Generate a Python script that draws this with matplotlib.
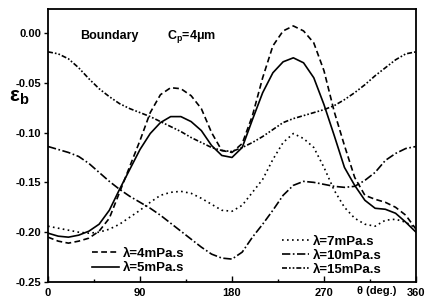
import matplotlib
matplotlib.use("Agg")
import matplotlib.pyplot as plt

plt.rcParams['font.family'] = ['Liberation Sans', 'DejaVu Sans']
plt.rcParams['font.weight'] = 'bold'
plt.rcParams['mathtext.fontset'] = 'custom'
plt.rcParams['mathtext.rm'] = 'Liberation Sans:bold'
plt.rcParams['mathtext.bf'] = 'Liberation Sans:bold'
plt.rcParams['mathtext.it'] = 'Liberation Sans:bold'

theta = list(range(0, 361, 10))

eps_4 = [-0.205, -0.209, -0.211, -0.209, -0.206, -0.199, -0.186, -0.160, -0.134, -0.108,
         -0.080, -0.062, -0.055, -0.056, -0.063, -0.076, -0.100, -0.118, -0.120, -0.111,
         -0.083, -0.045, -0.013, 0.002, 0.007, 0.002, -0.010, -0.038, -0.079, -0.113,
         -0.145, -0.163, -0.167, -0.170, -0.175, -0.183, -0.197]
eps_5 = [-0.201, -0.204, -0.205, -0.203, -0.199, -0.192, -0.178, -0.157, -0.137, -0.117,
         -0.101, -0.090, -0.084, -0.084, -0.089, -0.098, -0.113, -0.123, -0.125, -0.115,
         -0.087, -0.060, -0.040, -0.029, -0.025, -0.030, -0.045, -0.072, -0.103, -0.135,
         -0.153, -0.168, -0.176, -0.177, -0.181, -0.190, -0.200]
eps_7 = [-0.194, -0.196, -0.198, -0.200, -0.201, -0.200, -0.197, -0.192, -0.185, -0.178,
         -0.170, -0.163, -0.160, -0.159, -0.161, -0.166, -0.172, -0.178, -0.179, -0.173,
         -0.160, -0.147, -0.127, -0.110, -0.101, -0.106, -0.115, -0.135, -0.158, -0.175,
         -0.186, -0.192, -0.194, -0.188, -0.187, -0.190, -0.196]
eps_10 = [-0.114, -0.117, -0.120, -0.124, -0.131, -0.140, -0.149, -0.157, -0.164, -0.170,
          -0.176, -0.183, -0.191, -0.199, -0.207, -0.215, -0.222, -0.226, -0.227, -0.220,
          -0.205, -0.192, -0.178, -0.163, -0.153, -0.149, -0.150, -0.152, -0.154, -0.155,
          -0.154, -0.148, -0.140, -0.128, -0.121, -0.116, -0.114]
eps_15 = [-0.019, -0.021, -0.026, -0.035, -0.046, -0.056, -0.064, -0.071, -0.076, -0.080,
          -0.084, -0.089, -0.094, -0.099, -0.105, -0.110, -0.115, -0.118, -0.119, -0.115,
          -0.110, -0.104, -0.097, -0.090, -0.086, -0.083, -0.080, -0.077, -0.073, -0.067,
          -0.060, -0.052, -0.043, -0.035, -0.027, -0.021, -0.019]

labels = ['λ=4mPa.s', 'λ=5mPa.s', 'λ=7mPa.s', 'λ=10mPa.s', 'λ=15mPa.s']
xticks = [0, 90, 180, 270, 360]
yticks = [-0.25, -0.20, -0.15, -0.10, -0.05, 0.00]

fig = plt.figure(figsize=(4.25, 3.06), dpi=100)
ax = fig.add_axes([48/425, 24/306, 368/425, 273/306])

lw = 1.2
styles = [
    dict(color='black', lw=lw, linestyle=(0, (3.5, 2))),
    dict(color='black', lw=lw, linestyle='-'),
    dict(color='black', lw=lw, linestyle=(0, (1, 2))),
    dict(color='black', lw=lw, linestyle=(0, (5, 1.5, 1, 1.5))),
    dict(color='black', lw=lw, linestyle=(0, (3, 1.2, 1, 1.2, 1, 1.2))),
]
series = [eps_4, eps_5, eps_7, eps_10, eps_15]
lines = []
for s, st, lab in zip(series, styles, labels):
    l, = ax.plot(theta, s, label=lab, **st)
    lines.append(l)

ax.set_xlim(0, 360)
ax.set_ylim(-0.25, 0.024)
ax.set_xticks(xticks)
ax.set_xticklabels([str(t) for t in xticks])
ax.set_yticks(yticks)
ax.set_yticklabels(['%.2f' % v for v in yticks])
ax.set_xticks([45, 135, 225, 315], minor=True)
ax.tick_params(axis='x', direction='in', length=4, width=1, labelsize=8, pad=4)
ax.tick_params(axis='x', which='minor', direction='in', length=2, width=1)
ax.tick_params(axis='y', direction='out', length=3, width=1, labelsize=8, pad=2)
for sp in ax.spines.values():
    sp.set_linewidth(1.3)

fig.text(80/425, 1 - 36/306, 'Boundary', fontsize=9, fontweight='bold', va='center', ha='left')
fig.text(167/425, 1 - 37/306, r'$\mathrm{C_p}$=4μm', fontsize=9, fontweight='bold',
         va='center', ha='left')
fig.text(9/425, 1 - 98/306, r'$\mathrm{\varepsilon_b}$', fontsize=15, va='center', ha='left')
fig.text(377/425, 1 - 291/306, 'θ (deg.)', fontsize=8, fontweight='bold', va='center', ha='center')

leg1 = ax.legend(handles=lines[:2], loc='upper left', bbox_to_anchor=((91 - 48)/368, (282 - 246)/273),
                 frameon=False, fontsize=9.5, handlelength=2.0, handletextpad=0.3,
                 labelspacing=0.2, borderpad=0.1, borderaxespad=0)
ax.add_artist(leg1)
ax.legend(handles=lines[2:], loc='upper left', bbox_to_anchor=((281 - 48)/368, (282 - 234)/273),
          frameon=False, fontsize=9.5, handlelength=2.0, handletextpad=0.3,
          labelspacing=0.15, borderpad=0.1, borderaxespad=0)

fig.savefig('out.png', dpi=100)
